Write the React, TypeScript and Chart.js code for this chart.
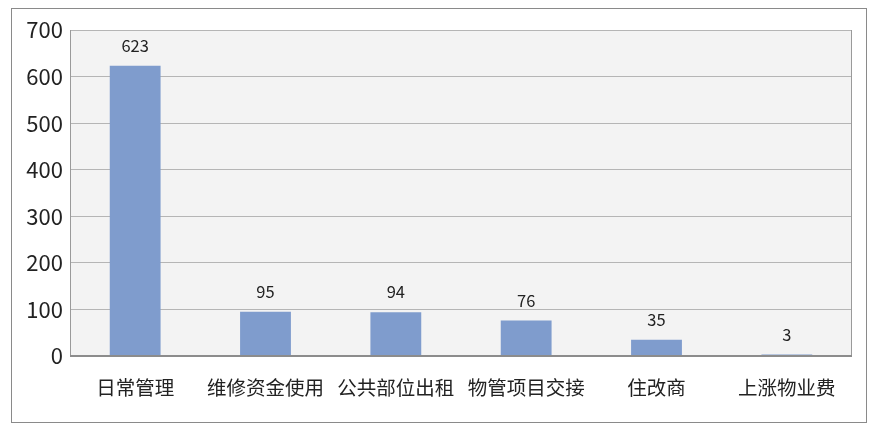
import React, { useEffect, useRef } from "react";
import { Chart, registerables } from "chart.js";

Chart.register(...registerables);

const categories = ["日常管理", "维修资金使用", "公共部位出租", "物管项目交接", "住改商", "上涨物业费"];
const values = [623, 95, 94, 76, 35, 3];
const yMin = 0;
const yMax = 700;
const yStep = 100;

const FONT = "'Noto Sans CJK SC', 'Noto Sans', sans-serif";

const frame = {
  id: "frame",
  beforeDraw(chart: any) {
    const { ctx, chartArea: a } = chart;
    ctx.save();
    ctx.fillStyle = "#ffffff";
    ctx.fillRect(0, 0, chart.width, chart.height);
    ctx.strokeStyle = "#8a8a8a";
    ctx.lineWidth = 1;
    ctx.strokeRect(11.5, 8.5, 855, 414);
    ctx.fillStyle = "#f3f3f3";
    ctx.fillRect(a.left, a.top, a.right - a.left, a.bottom - a.top);
    ctx.restore();
  },
  afterDraw(chart: any) {
    const { ctx, chartArea: a } = chart;
    ctx.save();
    ctx.strokeStyle = "#9a9a9a";
    ctx.lineWidth = 1;
    ctx.beginPath();
    ctx.moveTo(a.left + 0.5, a.top);
    ctx.lineTo(a.left + 0.5, a.bottom);
    ctx.moveTo(a.right - 0.5, a.top);
    ctx.lineTo(a.right - 0.5, a.bottom);
    ctx.stroke();
    ctx.strokeStyle = "#8c8c8c";
    ctx.lineWidth = 2;
    ctx.beginPath();
    ctx.moveTo(a.left, a.bottom);
    ctx.lineTo(a.right, a.bottom);
    ctx.stroke();
    const meta = chart.getDatasetMeta(0);
    ctx.fillStyle = "#222";
    ctx.font = `16.5px ${FONT}`;
    ctx.textAlign = "center";
    ctx.textBaseline = "middle";
    meta.data.forEach((bar: any, i: number) => {
      ctx.fillText(String(values[i]), bar.x, bar.y - 20);
    });
    ctx.restore();
  },
};

export default function App() {
  const ref = useRef<HTMLCanvasElement>(null);
  useEffect(() => {
    if (!ref.current) return;
    const chart = new Chart(ref.current, {
      type: "bar",
      data: {
        labels: categories,
        datasets: [
          {
            data: values,
            backgroundColor: "#7f9ccd",
            borderWidth: 0,
            categoryPercentage: 1,
            barPercentage: 0.39,
          },
        ],
      },
      options: {
        animation: false,
        responsive: false,
        events: [],
        layout: { padding: { top: 30, right: 24, left: 0, bottom: 0 } },
        plugins: { legend: { display: false }, tooltip: { enabled: false } },
        scales: {
          x: {
            grid: { display: false },
            border: { display: false },
            ticks: { color: "#222", font: { family: FONT, size: 19.5 }, padding: 12, maxRotation: 0, autoSkip: false },
            afterFit(s: any) {
              s.height = 77;
            },
          },
          y: {
            min: yMin,
            max: yMax,
            grid: { color: "#b5b5b5", drawTicks: false },
            border: { display: false },
            ticks: { stepSize: yStep, color: "#222", font: { family: FONT, size: 22 }, padding: 7 },
            afterFit(s: any) {
              s.width = 70;
            },
          },
        },
      },
      plugins: [frame],
    });
    return () => chart.destroy();
  }, []);
  return (
    <div style={{ position: "absolute", left: 0, top: 0, width: 876, height: 433 }}>
      <canvas ref={ref} width={876} height={433} style={{ width: 876, height: 433 }} />
    </div>
  );
}
